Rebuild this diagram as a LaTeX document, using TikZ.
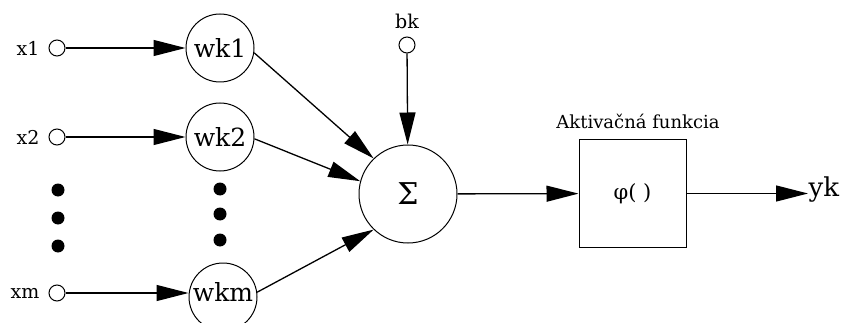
\documentclass[tikz,border=0pt]{standalone}
\usepackage{fontspec}
\setmainfont{DejaVu Serif}
\usetikzlibrary{arrows.meta}
\begin{document}
\begin{tikzpicture}[x=1pt,y=-1pt,
  line width=1.3pt,
  inp/.style={circle,draw,line width=1pt,minimum size=16pt,inner sep=0pt},
  wnode/.style={circle,draw,line width=1pt,minimum size=68pt,inner sep=0pt,font=\fontsize{25}{28}\selectfont},
  lbl/.style={inner sep=0pt,font=\fontsize{19}{21}\selectfont},
  dot/.style={circle,fill,inner sep=0pt,minimum size=13pt},
  arr/.style={-{Triangle[length=32pt,width=16pt]}},
]
\useasboundingbox (0,0) rectangle (845,323);
% input labels and circles
\node[lbl] (lx1) at (28,48) {x1};
\node[lbl] (lx2) at (28,137) {x2};
\node[lbl] (lxm) at (25,293) {xm};
\node[inp] (x1) at (57,48) {};
\node[inp] (x2) at (57,137) {};
\node[inp] (xm) at (57,293) {};
% weights
\node[wnode] (w1) at (220,48) {wk1};
\node[wnode] (w2) at (220,137) {wk2};
\node[wnode] (wm) at (223,297) {};
\node[inner sep=0pt,font=\fontsize{25}{28}\selectfont] (wmt) at (223,292) {wkm};
% dots
\node[dot] (d1) at (58,190) {};
\node[dot] (d2) at (58,218) {};
\node[dot] (d3) at (58,246) {};
\node[dot] (e1) at (220,189) {};
\node[dot] (e2) at (220,214) {};
\node[dot] (e3) at (220,240) {};
% sum
\node[circle,draw,line width=1pt,minimum size=98pt,inner sep=0pt,font=\fontsize{30}{32}\selectfont] (S) at (408,194) {Σ};
\node[lbl] (lbk) at (407,21) {bk};
\node[inp] (bk) at (407,45) {};
% activation
\node[draw,line width=1pt,minimum width=107pt,minimum height=107pt,inner sep=0pt,font=\fontsize{21}{23}\selectfont] (F) at (632.5,193.5) {φ( )};
\node[inner sep=0pt,font=\fontsize{18}{20}\selectfont] (lF) at (638,121) {Aktivačná funkcia};
\node[inner sep=0pt,anchor=west,font=\fontsize{26}{28}\selectfont] (yk) at (808,190) {yk};
% connectors
\draw[arr] (x1) -- (w1);
\draw[arr] (x2) -- (w2);
\draw[arr] (xm) -- (xm -| wm.west);
\draw[arr] (w1.-8) -- (S.134);
\draw[arr] (w2.-3) -- (S.165);
\draw[arr] (wm.8) -- (S.-134);
\draw[arr] (bk) -- (S);
\draw[arr] (S) -- (F);
\draw[arr] (F.east) -- (yk.west |- F.east);
\end{tikzpicture}
\end{document}
